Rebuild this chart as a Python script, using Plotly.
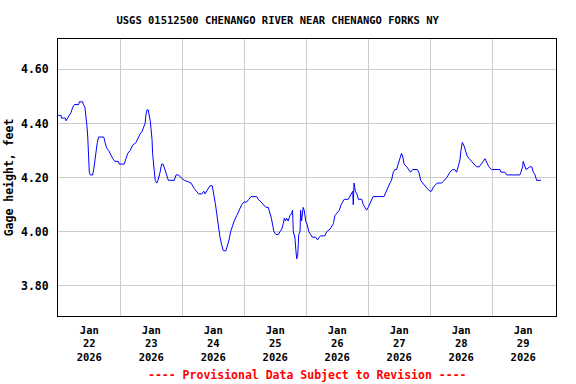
import datetime as dt
import plotly.graph_objects as go

# ---- data ----
start = dt.datetime(2026, 1, 22, 0, 0)
hours = [0.0, 1.05, 1.2, 2.7, 3.0, 3.6, 4.3, 4.9, 5.6, 6.2, 7.9, 8.1, 9.4, 9.7, 10.3, 10.7, 11.1, 11.4, 11.6, 12.0,
         12.4, 13.3, 13.7, 14.2, 14.6, 15.1, 15.6, 16.3, 17.6, 18.1, 18.7, 19.5, 20.4, 21.1, 21.9, 23.2, 23.6, 25.5,
         26.2, 26.9, 27.8, 28.8, 30.1, 30.7, 31.6, 32.4, 32.9, 33.6, 33.9, 34.3, 34.8, 35.2, 35.6, 35.9, 36.3, 36.5,
         36.9, 37.2, 37.5, 38.1, 38.6, 39.4, 40.0, 40.6, 41.3, 41.9, 42.6, 44.9, 45.6, 46.6, 47.5, 48.8, 50.1, 51.4,
         52.6, 53.3, 54.3, 55.6, 56.3, 56.8, 57.4, 58.2, 58.7, 59.6, 60.0, 60.4, 60.8, 61.3, 61.7, 62.2, 62.6, 63.3,
         63.9, 64.9, 65.4, 66.1, 66.7, 67.4, 68.1, 69.1, 70.1, 71.0, 71.9, 72.9, 73.8, 74.6, 76.8, 77.4, 78.5, 79.4,
         80.4, 81.3, 82.0, 82.5, 83.0, 83.5, 84.3, 85.2, 85.8, 86.5, 87.1, 87.5, 88.0, 88.4, 89.0, 89.7, 90.4, 90.7,
         91.0, 91.6, 92.0, 92.3, 92.7, 93.1, 93.6, 93.8, 94.2, 94.6, 94.8, 95.2, 95.8, 96.4, 97.0, 97.7, 98.3, 99.6,
         100.4, 101.0, 101.6, 103.2, 103.9, 105.2, 105.8, 106.5, 107.1, 108.0, 108.8, 109.5, 110.1, 110.7, 112.3,
         112.9, 113.6, 114.0, 114.2, 114.5, 115.0, 115.6, 116.2, 117.5, 118.1, 118.8, 119.4, 120.0, 120.7, 121.6,
         121.9, 126.1, 126.5, 127.1, 127.7, 128.4, 129.0, 129.7, 130.3, 131.0, 131.6, 132.3, 132.9, 133.3, 133.9,
         134.9, 135.8, 136.4, 137.2, 139.0, 139.6, 140.3, 141.1, 141.9, 142.8, 143.9, 144.5, 145.2, 145.8, 146.7,
         148.4, 149.3, 150.4, 151.6, 152.7, 153.5, 154.2, 154.8, 155.5, 155.9, 156.4, 157.0, 157.7, 158.3, 159.1,
         160.0, 161.0, 161.9, 163.0, 163.9, 164.5, 165.2, 165.8, 166.7, 167.8, 171.0, 171.4, 172.9, 173.6, 178.7,
         179.1, 179.8, 180.0, 180.4, 181.1, 182.6, 183.3, 183.9, 184.6, 185.2, 186.9]
gage_ft = [4.43, 4.43, 4.42, 4.42, 4.41, 4.42, 4.43, 4.44, 4.46, 4.47, 4.47, 4.48, 4.48, 4.47, 4.46, 4.43, 4.39,
           4.35, 4.28, 4.22, 4.21, 4.21, 4.23, 4.27, 4.30, 4.33, 4.35, 4.35, 4.35, 4.33, 4.31, 4.30, 4.28, 4.27, 4.26,
           4.26, 4.25, 4.25, 4.27, 4.29, 4.30, 4.32, 4.33, 4.345, 4.36, 4.37, 4.38, 4.40, 4.43, 4.45, 4.45, 4.43,
           4.41, 4.38, 4.34, 4.29, 4.25, 4.20, 4.19, 4.18, 4.19, 4.22, 4.25, 4.25, 4.23, 4.21, 4.19, 4.19, 4.21,
           4.21, 4.20, 4.19, 4.185, 4.18, 4.16, 4.15, 4.14, 4.14, 4.15, 4.14, 4.15, 4.16, 4.17, 4.17, 4.15, 4.13,
           4.105, 4.07, 4.04, 4.00, 3.98, 3.95, 3.93, 3.93, 3.945, 3.97, 4.00, 4.025, 4.04, 4.06, 4.08, 4.10, 4.11,
           4.11, 4.12, 4.13, 4.13, 4.12, 4.11, 4.10, 4.09, 4.09, 4.07, 4.05, 4.025, 4.00, 3.99, 3.99, 4.00, 4.01,
           4.03, 4.05, 4.04, 4.05, 4.04, 4.06, 4.07, 4.08, 4.00, 3.98, 3.93, 3.90, 3.915, 3.99, 4.00, 4.08, 4.04,
           4.08, 4.09, 4.08, 4.04, 4.025, 4.00, 3.99, 3.98, 3.98, 3.97, 3.98, 3.985, 3.985, 4.00, 4.01, 4.02, 4.03,
           4.06, 4.07, 4.08, 4.10, 4.11, 4.12, 4.12, 4.13, 4.14, 4.15, 4.10, 4.18, 4.15, 4.14, 4.12, 4.12, 4.10,
           4.09, 4.08, 4.09, 4.105, 4.12, 4.13, 4.13, 4.14, 4.15, 4.17, 4.18, 4.19, 4.22, 4.23, 4.23, 4.25, 4.27,
           4.29, 4.28, 4.25, 4.24, 4.23, 4.22, 4.23, 4.23, 4.22, 4.19, 4.18, 4.17, 4.16, 4.15, 4.15, 4.165, 4.17,
           4.18, 4.18, 4.19, 4.20, 4.22, 4.23, 4.23, 4.22, 4.24, 4.265, 4.30, 4.33, 4.32, 4.30, 4.28, 4.27, 4.26,
           4.25, 4.24, 4.24, 4.25, 4.26, 4.27, 4.26, 4.24, 4.23, 4.23, 4.22, 4.22, 4.21, 4.21, 4.22, 4.24, 4.26,
           4.25, 4.23, 4.24, 4.24, 4.22, 4.21, 4.19, 4.19]
day_numbers = [22, 23, 24, 25, 26, 27, 28, 29]
y_ticks = [3.80, 4.00, 4.20, 4.40, 4.60]
title_text = "USGS 01512500 CHENANGO RIVER NEAR CHENANGO FORKS NY"
footer_text = "---- Provisional Data Subject to Revision ----"
y_title = "Gage height, feet"

times = [start + dt.timedelta(hours=h) for h in hours]
label_pos = [dt.datetime(2026, 1, d, 12) for d in day_numbers]
label_txt = [f"Jan<br>{d}<br>2026" for d in day_numbers]
grid_pos = [dt.datetime(2026, 1, d) for d in day_numbers[1:]]

FONT = "DejaVu Sans Mono"

fig = go.Figure(go.Scatter(x=times, y=gage_ft, mode="lines",
                           line=dict(color="#0000ff", width=1), hoverinfo="skip"))

fig.update_layout(
    width=576, height=384,
    margin=dict(l=58, r=20, t=39, b=68, autoexpand=False),
    paper_bgcolor="white", plot_bgcolor="white",
    showlegend=False,
    font=dict(family=FONT, size=11, color="black", weight="bold"),
    title=dict(text=title_text, x=0.482, xanchor="center", xref="container",
               y=1 - 20 / 384, yanchor="middle", yref="container",
               font=dict(family=FONT, size=10.5, color="black", weight="bold")),
)
fig.update_xaxes(
    range=[start - dt.timedelta(hours=0.12), start + dt.timedelta(hours=192.7)],
    tickmode="array", tickvals=label_pos, ticktext=label_txt,
    showgrid=False, ticks="", ticklabelstandoff=4, automargin=False,
    minor=dict(tickmode="array", tickvals=grid_pos, showgrid=True, gridcolor="#cccccc", gridwidth=1, ticks=""),
    showline=True, linecolor="black", linewidth=1, mirror=True, zeroline=False,
    tickfont=dict(family=FONT, size=10.5, weight="bold"),
)
fig.update_yaxes(
    range=[3.689, 4.712],
    tickmode="array", tickvals=y_ticks, ticktext=[f"{v:.2f}" for v in y_ticks],
    showgrid=True, gridcolor="#cccccc", gridwidth=1, ticks="", ticklabelstandoff=6, automargin=False,
    showline=True, linecolor="black", linewidth=1, mirror=True, zeroline=False,
    tickfont=dict(family=FONT, size=11.5, weight="bold"),
    title=dict(text=y_title, standoff=4, font=dict(family=FONT, size=11.5, weight="bold")),
)
fig.add_annotation(text=footer_text, xref="paper", yref="paper", x=0.5, y=-(375 - 316) / 277,
                   xanchor="center", yanchor="middle", showarrow=False,
                   font=dict(family=FONT, size=11.5, color="#ff0000", weight="bold"))

fig.write_html("out.html", config={"displayModeBar": False, "staticPlot": True},
               post_script="document.body.style.margin='0';document.body.style.padding='0';")
